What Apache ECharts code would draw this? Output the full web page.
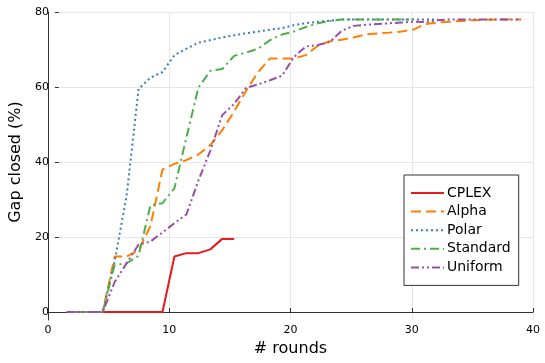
<!DOCTYPE html>
<html>
<head>
<meta charset="utf-8">
<script src="https://cdn.jsdelivr.net/npm/echarts@6/dist/echarts.min.js"></script>
<style>
  html, body { margin: 0; padding: 0; background: #fff; }
  #chart { width: 545px; height: 363px; }
</style>
</head>
<body>
<div id="chart"></div>
<script>
// values, one per round starting at round 1
const seriesNames = ["CPLEX", "Alpha", "Polar", "Standard", "Uniform"];
const cplex = [0, 0, 0, 0, 0, 0, 0, 0, 0, 14.8, 15.7, 15.7, 16.7, 19.5, 19.5];
const alpha = [0, 0, 0, 0, 14.8, 14.8, 16.5, 23, 38, 39.5, 40.5, 42, 44.5, 48.5, 53.5,
  59, 64, 67.6, 67.6, 67.6, 68.5, 71, 72.2, 72.6, 73.2, 74, 74.3, 74.5, 74.8, 75.3,
  76.8, 77.2, 77.4, 77.6, 77.8, 77.9, 78, 78, 78];
const polar = [0, 0, 0, 0, 13.5, 31, 59.5, 62.5, 64, 68.5, 70.2, 71.8, 72.5, 73.2, 73.8,
  74.3, 74.8, 75.3, 75.7, 76.5, 77, 77.4, 77.7, 78, 78, 78, 78, 78, 78, 78, 78, 78];
const standard = [0, 0, 0, 0, 12.5, 13, 15, 28.5, 29, 33, 46.5, 59.8, 64.3, 64.8, 68.3,
  69.2, 70.2, 72.5, 74, 74.8, 76, 77, 77.6, 78, 78, 78, 78, 78, 78, 78];
const uniform = [0, 0, 0, 0, 8, 13, 18, 18.8, 21.2, 23.7, 26, 35, 43, 52.5, 55.5,
  59.8, 60.7, 61.8, 63, 68, 70.8, 71.2, 72, 75, 76.3, 76.6, 76.8, 77, 77.2, 77.4,
  77.3, 77.8, 78, 78, 78, 78, 78, 78, 78];
const xTicks = [0, 10, 20, 30, 40];
const yTicks = [0, 20, 40, 60, 80];

const colors = ["#e41a1c", "#ff7f00", "#377eb8", "#4daf4a", "#984ea3"];
const dashes = ["solid", [10, 5], [2, 3], [9, 4, 2, 4], [8, 3, 2, 3, 2, 3]];
const allValues = [cplex, alpha, polar, standard, uniform];

const toPoints = (vals) => vals.map((v, i) => [i + 1, v]);

const font = "DejaVu Sans";
const gridColor = "#e6e6e6";
const axisColor = "#333";

const option = {
  animation: false,
  textStyle: { fontFamily: font },
  grid: [
    // frame grid: axis lines reach a bit below zero, like the reference
    { left: 48, right: 12, top: 12, bottom: 43 },
    // data grid: y from 0 to 80
    { left: 48, right: 12, top: 12, bottom: 51 },
  ],
  xAxis: [
    {
      gridIndex: 0,
      type: "value",
      min: xTicks[0],
      max: xTicks[xTicks.length - 1],
      interval: 10,
      name: "# rounds",
      nameLocation: "middle",
      nameGap: 17,
      nameTextStyle: { fontSize: 16, color: "#000", fontFamily: font },
      axisLine: { lineStyle: { color: axisColor, width: 1 } },
      axisTick: { inside: true, length: 4, lineStyle: { color: axisColor } },
      axisLabel: { fontSize: 11, color: "#000", margin: 5, fontFamily: font },
      splitLine: { show: true, lineStyle: { color: gridColor, width: 1 } },
    },
    {
      gridIndex: 1,
      type: "value",
      min: xTicks[0],
      max: xTicks[xTicks.length - 1],
      interval: 10,
      show: false,
    },
  ],
  yAxis: [
    {
      gridIndex: 0,
      type: "value",
      min: -2.13,
      max: 80,
      axisLine: { show: true, lineStyle: { color: axisColor, width: 1 } },
      axisTick: { show: false },
      axisLabel: { show: false },
      splitLine: { show: false },
    },
    {
      gridIndex: 1,
      type: "value",
      min: yTicks[0],
      max: yTicks[yTicks.length - 1],
      interval: 20,
      name: "Gap closed (%)",
      nameLocation: "middle",
      nameGap: 22,
      nameRotate: 90,
      nameTextStyle: { fontSize: 16, color: "#000", fontFamily: font },
      axisLine: { show: false },
      axisTick: { show: true, inside: true, length: 4, lineStyle: { color: axisColor } },
      axisLabel: { fontSize: 11, color: "#000", margin: 6, fontFamily: font },
      splitLine: { show: true, lineStyle: { color: gridColor, width: 1 } },
    },
  ],
  legend: {
    orient: "vertical",
    left: 404,
    top: 175,
    padding: [11, 8, 11, 6],
    itemGap: 4.6,
    itemWidth: 33,
    itemHeight: 14,
    backgroundColor: "#fff",
    borderColor: "#333",
    borderWidth: 1,
    borderRadius: 0,
    itemStyle: { opacity: 0 },
    textStyle: { fontSize: 14, color: "#000", fontFamily: font, padding: [0, 0, 0, -2] },
    data: seriesNames,
  },
  series: seriesNames.map((name, i) => ({
    name,
    type: "line",
    xAxisIndex: 1,
    yAxisIndex: 1,
    data: toPoints(allValues[i]),
    showSymbol: false,
    symbol: "none",
    clip: false,
    color: colors[i],
    lineStyle: { color: colors[i], width: 2, type: dashes[i] },
  })),
};

echarts.init(document.getElementById("chart"), null, { renderer: "canvas" }).setOption(option);
</script>
</body>
</html>
